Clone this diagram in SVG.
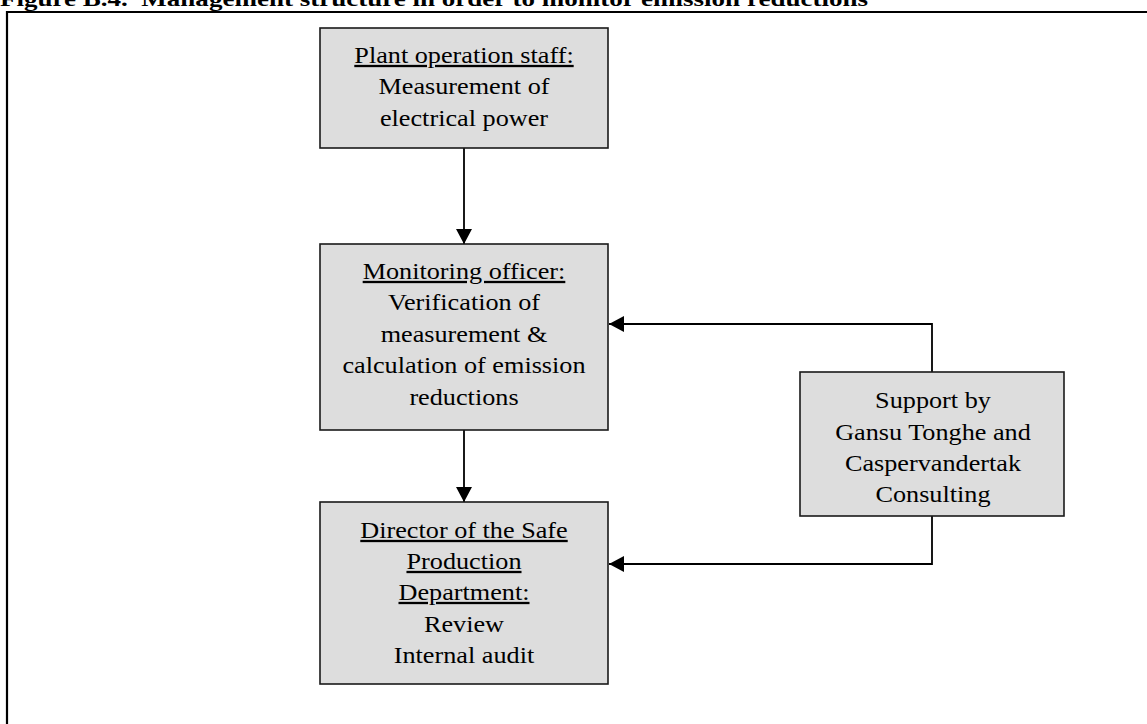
<svg xmlns="http://www.w3.org/2000/svg" width="1147" height="724" viewBox="0 0 1147 724">
<style>
.box{fill:#dddddd;stroke:#1a1a1a;stroke-width:1.6}
.t{font-family:"Liberation Serif","Times New Roman",serif;font-size:23px;fill:#000;text-anchor:middle}
.u{text-decoration:underline}
.c{fill:none;stroke:#000;stroke-width:1.8}
.title{font-family:"Liberation Serif","Times New Roman",serif;font-size:22px;font-weight:bold;fill:#000}
</style>
<defs>
<marker id="ah" markerUnits="userSpaceOnUse" markerWidth="16" markerHeight="16" viewBox="0 0 15 16" refX="15" refY="8" orient="auto">
<path d="M0,0 L15,8 L0,16 Z" fill="#000"/>
</marker>
</defs>
<text class="title" x="0" y="6" textLength="868" lengthAdjust="spacingAndGlyphs">Figure B.4.&#160; Management structure in order to monitor emission reductions</text>
<path d="M7,724 V12 H1147" fill="none" stroke="#000" stroke-width="2.2"/>
<g id="connectors">
<line class="c" x1="464" y1="148" x2="464" y2="244" marker-end="url(#ah)"/>
<line class="c" x1="464" y1="430" x2="464" y2="502" marker-end="url(#ah)"/>
<polyline class="c" points="932,372 932,324 609,324" marker-end="url(#ah)"/>
<polyline class="c" points="932,516 932,564 609,564" marker-end="url(#ah)"/>
</g>
<g id="node-plant">
<rect class="box" x="320" y="28" width="288" height="120"/>
<g transform="translate(464,0) scale(1.14,1) translate(-464,0)">
<text class="t u" x="464" y="63">Plant operation staff:</text>
<text class="t" x="464" y="94.5">Measurement of</text>
<text class="t" x="464" y="126">electrical power</text>
</g>
</g>
<g id="node-monitoring">
<rect class="box" x="320" y="244" width="288" height="186"/>
<g transform="translate(464,0) scale(1.14,1) translate(-464,0)">
<text class="t u" x="464" y="279">Monitoring officer:</text>
<text class="t" x="464" y="310.5">Verification of</text>
<text class="t" x="464" y="342">measurement &amp;</text>
<text class="t" x="464" y="373.5">calculation of emission</text>
<text class="t" x="464" y="405">reductions</text>
</g>
</g>
<g id="node-director">
<rect class="box" x="320" y="502" width="288" height="182"/>
<g transform="translate(464,0) scale(1.14,1) translate(-464,0)">
<text class="t u" x="464" y="538">Director of the Safe</text>
<text class="t u" x="464" y="569">Production</text>
<text class="t u" x="464" y="600">Department:</text>
<text class="t" x="464" y="632">Review</text>
<text class="t" x="464" y="663">Internal audit</text>
</g>
</g>
<g id="node-support">
<rect class="box" x="800" y="372" width="264" height="144"/>
<g transform="translate(933,0) scale(1.14,1) translate(-933,0)">
<text class="t" x="933" y="408">Support by</text>
<text class="t" x="933" y="440">Gansu Tonghe and</text>
<text class="t" x="933" y="471">Caspervandertak</text>
<text class="t" x="933" y="502">Consulting</text>
</g>
</g>
</svg>
